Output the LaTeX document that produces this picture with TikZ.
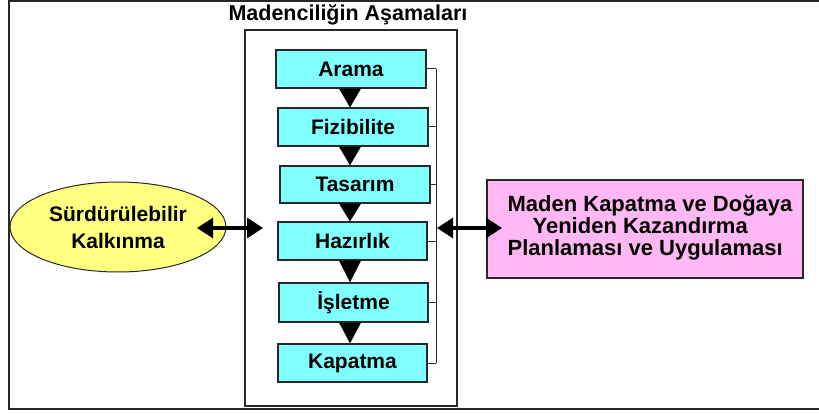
\documentclass[tikz,border=0pt]{standalone}
\usepackage{fontspec}
\setmainfont{Liberation Sans}
\usetikzlibrary{arrows.meta,shapes.geometric,calc}
\definecolor{boxcyan}{RGB}{128,255,255}
\definecolor{boxpink}{RGB}{255,184,244}
\definecolor{boxyellow}{RGB}{255,255,128}
\definecolor{edgegray}{RGB}{40,40,40}
\begin{document}
\begin{tikzpicture}[x=1pt,y=-1pt,
  lbl/.style={font=\fontsize{21}{22}\selectfont\bfseries},
  stage/.style={draw=edgegray,line width=1.2pt,fill=boxcyan,minimum width=150pt,minimum height=38pt,inner sep=0pt,lbl},
  tri/.style={fill=black},
  link/.style={draw=edgegray,line width=1pt},
  dbl/.style={line width=3pt,{Triangle[length=16pt,width=20pt]}-{Triangle[length=16pt,width=20pt]}}
]
\useasboundingbox (0,0) rectangle (819,414);
% outer frame
\draw[line width=2pt,edgegray] (819,409) -- (9,409) -- (9,1.2) -- (819,1.2);
% title
\node[font=\fontsize{21.5}{22}\selectfont\bfseries] (title) at (348,15) {Madenciliğin Aşamaları};
% container
\draw[edgegray,line width=1.2pt] (245,30) rectangle (457,406);
% stages
\node[stage] (s1) at (351,69) {Arama};
\node[stage] (s2) at (353,127) {Fizibilite};
\node[stage,minimum height=37pt] (s3) at (355,184.5) {Tasarım};
\node[stage,minimum width=149pt] (s4) at (352.5,241) {Hazırlık};
\node[stage,minimum width=149pt,minimum height=39pt] (s5) at (353.5,302.5) {İşletme};
\node[stage,minimum width=149pt] (s6) at (352.5,363) {Kapatma};
% triangles
\coordinate (tl) at (339,0);
\coordinate (tr) at (361,0);
\coordinate (tc) at (350,0);
\foreach \a/\b in {s1/s2,s2/s3,s3/s4,s4/s5,s5/s6}{
  \fill[tri] (tl |- \a.south) -- (tr |- \a.south) -- (tc |- \b.north) -- cycle;
}
% bracket
\coordinate (bx) at (436,0);
\draw[link] (bx |- s1.east) -- (bx |- s6.east);
\foreach \s in {s1,s2,s3,s4,s5,s6}{
  \draw[link] (\s.east) -- (bx |- \s.east);
}
% ellipse
\node[ellipse,draw=edgegray,line width=1pt,fill=boxyellow,minimum width=216pt,minimum height=90pt,inner sep=0pt,align=center,font=\fontsize{21}{27}\selectfont\bfseries] (sk) at (118,227) {Sürdürülebilir\\Kalkınma};
% pink box
\node[draw=edgegray,line width=1.2pt,fill=boxpink,minimum width=316pt,minimum height=98pt,inner sep=0pt] (mk) at (645,229) {};
\node[font=\fontsize{22}{22}\selectfont\bfseries,anchor=west,align=left,inner sep=0pt] (mkt) at ($(mk.west)+(21,-1)$) {Maden Kapatma ve Doğaya\\\hspace*{25pt}Yeniden Kazandırma\\Planlaması ve Uygulaması};
% double arrows
\coordinate (la) at (197,228);
\coordinate (lb) at (263,228);
\coordinate (ra) at (437,228);
\coordinate (rb) at (502,228);
\draw[dbl] (la) -- (lb);
\draw[dbl] (ra) -- (rb);
\end{tikzpicture}
\end{document}
